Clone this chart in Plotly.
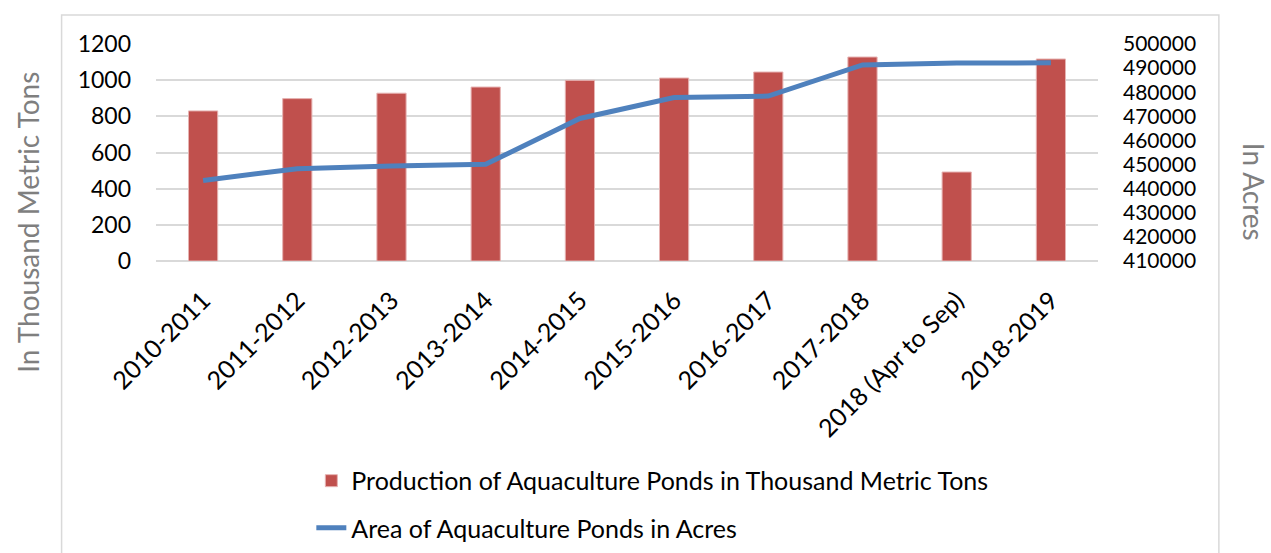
import plotly.graph_objects as go

categories = ["2010-2011", "2011-2012", "2012-2013", "2013-2014", "2014-2015",
              "2015-2016", "2016-2017", "2017-2018", "2018 (Apr to Sep)", "2018-2019"]
production = [830, 898, 928, 962, 999, 1012, 1045, 1128, 492, 1117]
area = [443400, 448300, 449400, 450100, 469100, 477800, 478400, 491300, 492100, 492200]

FONT = "Lato, 'Open Sans', sans-serif"

fig = go.Figure()
fig.add_trace(go.Bar(
    x=categories, y=production,
    name="Production of Aquaculture Ponds in Thousand Metric Tons",
    marker=dict(color="#c0504d", line=dict(color="#e6b3b2", width=1)),
    legend="legend",
))
fig.add_trace(go.Scatter(
    x=categories, y=area, yaxis="y2", mode="lines",
    name="Area of Aquaculture Ponds in Acres",
    line=dict(color="#4f81bd", width=5),
    legend="legend2",
))

W, H = 1271, 553
L, R, T, B = 155.5, 1098.5, 44.3, 260.7
pw, ph = R - L, B - T

def px(xp):
    return (xp - L) / pw

def py(yp):
    return (B - yp) / ph

fig.update_layout(
    width=W, height=H,
    margin=dict(l=L, r=W - R, t=T, b=H - B, pad=0, autoexpand=False),
    paper_bgcolor="white", plot_bgcolor="white",
    font=dict(family=FONT, size=22, color="#000000"),
    bargap=0.69,
    showlegend=True,
    xaxis=dict(
        tickangle=-45, showgrid=False, showline=False, ticks="",
        tickfont=dict(size=25, color="#000000"), ticklabelstandoff=19,
    ),
    yaxis=dict(
        range=[0, 1200], dtick=200, showgrid=True, gridcolor="#d9d9d9", gridwidth=1.5,
        zeroline=True, zerolinecolor="#d9d9d9", zerolinewidth=1.5,
        showline=False, ticks="", tickfont=dict(size=23, color="#000000"),
        ticklabelstandoff=24,
    ),
    yaxis2=dict(
        range=[410000, 500000], dtick=10000, tickformat="d", overlaying="y", side="right",
        showgrid=False, zeroline=False, showline=False, ticks="",
        tickfont=dict(size=21, color="#000000"), ticklabelstandoff=24,
    ),
    legend=dict(
        x=px(311), y=py(480), xanchor="left", yanchor="middle",
        font=dict(size=25, color="#000000"), bgcolor="rgba(0,0,0,0)",
        itemwidth=30,
    ),
    legend2=dict(
        x=px(311), y=py(527), xanchor="left", yanchor="middle",
        font=dict(size=25, color="#000000"), bgcolor="rgba(0,0,0,0)",
        itemwidth=30,
    ),
    shapes=[dict(
        type="rect", xref="paper", yref="paper",
        x0=px(61), x1=px(1219.5), y0=py(600), y1=py(15.5),
        line=dict(color="#d9d9d9", width=1.5), fillcolor="rgba(0,0,0,0)", layer="below",
    )],
    annotations=[
        dict(text="In Thousand Metric Tons", xref="paper", yref="paper",
             x=px(28), y=py(222), textangle=-90, showarrow=False,
             font=dict(size=28, color="#7f7f7f", family=FONT),
             xanchor="center", yanchor="middle"),
        dict(text="In Acres", xref="paper", yref="paper",
             x=px(1255), y=py(192), textangle=90, showarrow=False,
             font=dict(size=28, color="#7f7f7f", family=FONT),
             xanchor="center", yanchor="middle"),
    ],
)

fig.write_html("out.html")
